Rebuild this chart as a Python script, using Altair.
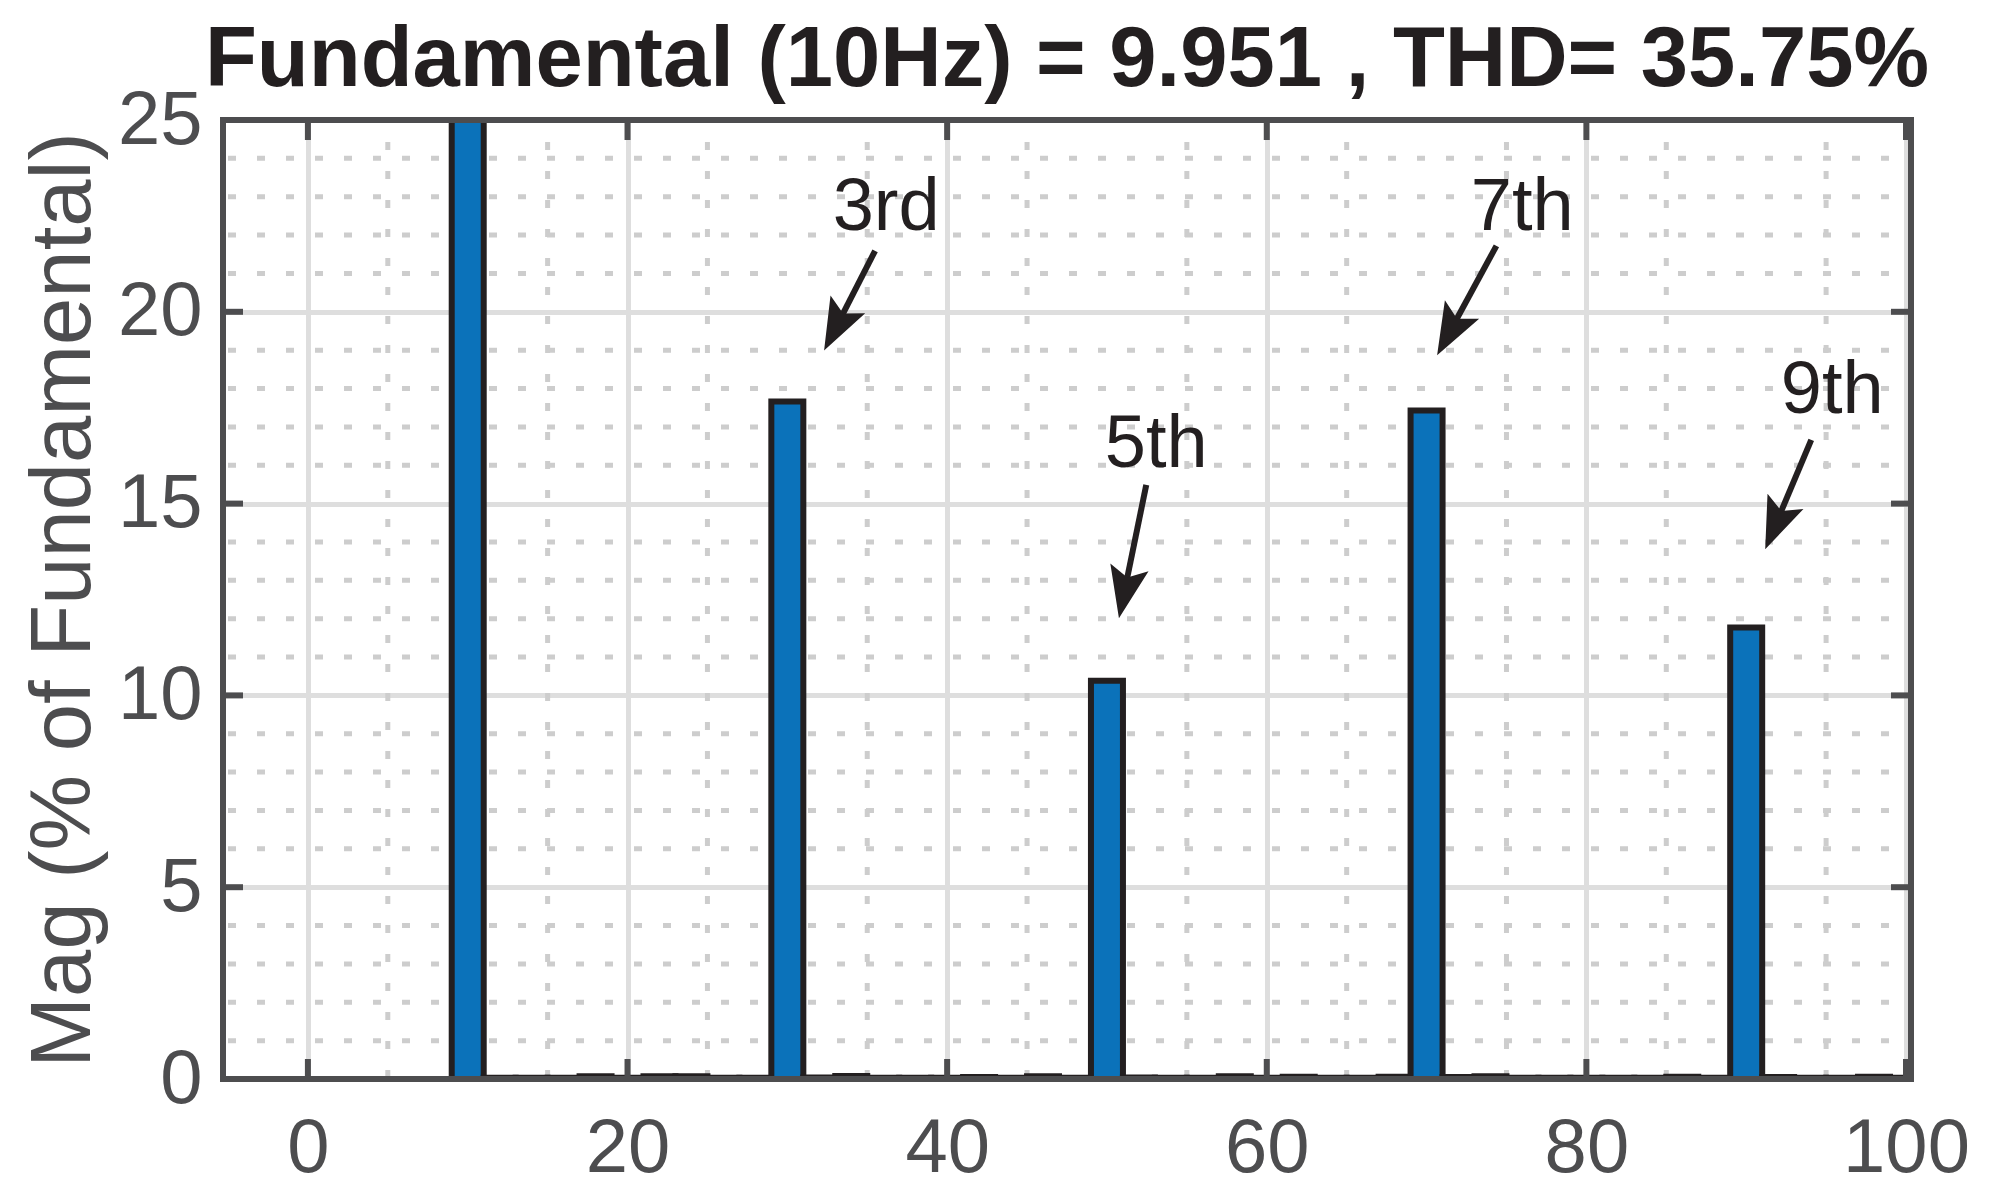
import math
import altair as alt
import pandas as pd

# ---------------- data ----------------
freq = [10, 12, 14, 16, 18, 20, 22, 24, 26, 28,
        30, 32, 34, 36, 38, 40, 42, 44, 46, 48,
        50, 52, 54, 56, 58, 60, 62, 64, 66, 68,
        70, 72, 74, 76, 78, 80, 82, 84, 86, 88,
        90, 92, 94, 96, 98, 100]
mag = [100.0, 0.03, 0.03, 0.03, 0.07, 0.03, 0.07, 0.07, 0.03, 0.03,
       17.66, 0.04, 0.08, 0.03, 0.03, 0.03, 0.05, 0.03, 0.07, 0.03,
       10.38, 0.04, 0.03, 0.03, 0.07, 0.03, 0.06, 0.03, 0.03, 0.06,
       17.43, 0.05, 0.07, 0.03, 0.03, 0.03, 0.03, 0.03, 0.06, 0.03,
       11.77, 0.05, 0.03, 0.03, 0.06, 0.03]

x_major = [0, 20, 40, 60, 80, 100]
y_major = [0, 5, 10, 15, 20, 25]
x_minor = [5, 15, 25, 35, 45, 55, 65, 75, 85, 95]
y_minor = [1, 2, 3, 4, 6, 7, 8, 9, 11, 12, 13, 14, 16, 17, 18, 19, 21, 22, 23, 24]

labels = ["3rd", "5th", "7th", "9th"]
label_x = [36.18, 53.08, 75.99, 95.38]
label_y = [22.13, 15.96, 22.13, 17.35]
tail_x = [35.49, 52.46, 74.37, 94.07]
tail_y = [21.59, 15.49, 21.72, 16.66]
tip_x = [32.30, 50.75, 70.66, 91.19]
tip_y = [18.99, 12.01, 18.87, 13.81]

title_text = "Fundamental (10Hz) = 9.951 , THD= 35.75%"
y_title = "Mag (% of Fundamental)"

# ---------------- layout / style ----------------
W, H = 1688, 959
X_DOM = [-5, 100]
Y_DOM = [0, 25]
PX_X = W / (X_DOM[1] - X_DOM[0])
PX_Y = H / (Y_DOM[1] - Y_DOM[0])
FONT = "Liberation Sans"
AXIS_COL = "#4d4d4f"
INK = "#231f20"
BLUE = "#0b72ba"
HEAD_LEN = 52
SHAFT_BACK = 34
TITLE_GAP = 34

xs = alt.Scale(domain=X_DOM, nice=False, zero=False)
ys = alt.Scale(domain=Y_DOM, nice=False, zero=False)

x_axis = alt.Axis(values=x_major, title=None, domain=False, ticks=False,
                  labelFont=FONT, labelFontSize=76, labelColor=AXIS_COL,
                  labelPadding=92, labelBaseline="alphabetic", labelFlush=False,
                  labelOverlap=False, grid=True, gridColor="#dedede", gridWidth=5,
                  gridOpacity=1)
y_axis = alt.Axis(values=y_major, title=y_title, domain=False, ticks=False,
                  labelFont=FONT, labelFontSize=76, labelColor=AXIS_COL,
                  labelPadding=21, labelAlign="right", labelBaseline="middle",
                  labelFlush=False, labelOverlap=False,
                  grid=True, gridColor="#dedede", gridWidth=5, gridOpacity=1,
                  titleFont=FONT, titleFontSize=85, titleFontWeight="normal",
                  titleColor=AXIS_COL, titleAngle=270, titleAlign="center",
                  titleBaseline="alphabetic", titleX=-134, titleY=H / 2)


def X(f):
    return alt.X(f, type="quantitative", scale=xs, axis=x_axis)


def Y(f):
    return alt.Y(f, type="quantitative", scale=ys, axis=y_axis)


bars_df = pd.DataFrame({"freq": freq, "mag": mag})

minor_v = alt.Chart(pd.DataFrame({"v": x_minor})).mark_rule(
    color="#cdcdcd", strokeWidth=5, strokeDash=[8, 21], strokeDashOffset=7
).encode(x=X("v"))
minor_h = alt.Chart(pd.DataFrame({"v": y_minor})).mark_rule(
    color="#cdcdcd", strokeWidth=5, strokeDash=[8, 21], strokeDashOffset=7
).encode(y=Y("v"))

bars = alt.Chart(bars_df).mark_bar(
    width=32, fill=BLUE, stroke=INK, strokeWidth=6, clip=True
).encode(x=X("freq"), y=Y("mag"), y2=alt.datum(0))

# annotations
rows = []
for lab, lx, ly, tx, ty, hx, hy in zip(labels, label_x, label_y, tail_x, tail_y, tip_x, tip_y):
    dxp = (hx - tx) * PX_X
    dyp = -(hy - ty) * PX_Y
    L = math.hypot(dxp, dyp)
    ang = math.degrees(math.atan2(dxp, -dyp)) % 360
    k = SHAFT_BACK / L
    rows.append({"lab": lab, "lx": lx, "ly": ly, "tx": tx, "ty": ty,
                 "hx": hx, "hy": hy, "sx": hx - k * (hx - tx), "sy": hy - k * (hy - ty),
                 "ang": ang})
ann = pd.DataFrame(rows)

texts = alt.Chart(ann).mark_text(
    font=FONT, fontSize=74, color=INK, align="center", baseline="alphabetic"
).encode(x=X("lx"), y=Y("ly"), text="lab:N")

shafts = alt.Chart(ann).mark_rule(color=INK, strokeWidth=6).encode(
    x=X("tx"), y=Y("ty"), x2="sx:Q", y2="sy:Q")

head_path = "M0,0 L0.75,2 L0,1.6 L-0.75,2 Z"
heads = alt.Chart(ann).mark_point(
    shape=head_path, filled=True, size=HEAD_LEN ** 2, color=INK, opacity=1, strokeWidth=0
).encode(x=X("hx"), y=Y("hy"), angle=alt.Angle("ang:Q", scale=None))

# inward ticks
tick_style = dict(color=AXIS_COL, strokeWidth=6)
xdf = pd.DataFrame({"v": x_major})
ydf = pd.DataFrame({"v": y_major})
tick_b = alt.Chart(xdf).mark_rule(**tick_style).encode(x=X("v"), y=alt.value(H), y2=alt.value(H - 20))
tick_t = alt.Chart(xdf).mark_rule(**tick_style).encode(x=X("v"), y=alt.value(0), y2=alt.value(20))
tick_l = alt.Chart(ydf).mark_rule(**tick_style).encode(y=Y("v"), x=alt.value(0), x2=alt.value(20))
tick_r = alt.Chart(ydf).mark_rule(**tick_style).encode(y=Y("v"), x=alt.value(W), x2=alt.value(W - 20))

frame = alt.Chart(pd.DataFrame({"a": [0]})).mark_rect(
    fillOpacity=0, stroke=AXIS_COL, strokeWidth=6
).encode(x=alt.value(0), x2=alt.value(W), y=alt.value(0), y2=alt.value(H))

# chart title (drawn as a text mark centred above the plot)
title = alt.Chart(pd.DataFrame({"t": [title_text]})).mark_text(
    font=FONT, fontSize=85, fontWeight="bold", color=INK, align="center", baseline="alphabetic"
).encode(x=alt.value(W / 2), y=alt.value(-TITLE_GAP), text="t:N")

chart = alt.layer(
    minor_v, minor_h, bars, shafts, heads, texts, tick_b, tick_t, tick_l, tick_r, frame, title
).properties(
    width=W, height=H,
    padding={"left": 215, "top": 112, "right": 60, "bottom": 110},
    autosize=alt.AutoSizeParams(type="none"),
).configure_view(strokeWidth=0)

chart.save("out.html", embed_options={"renderer": "svg", "actions": False})
